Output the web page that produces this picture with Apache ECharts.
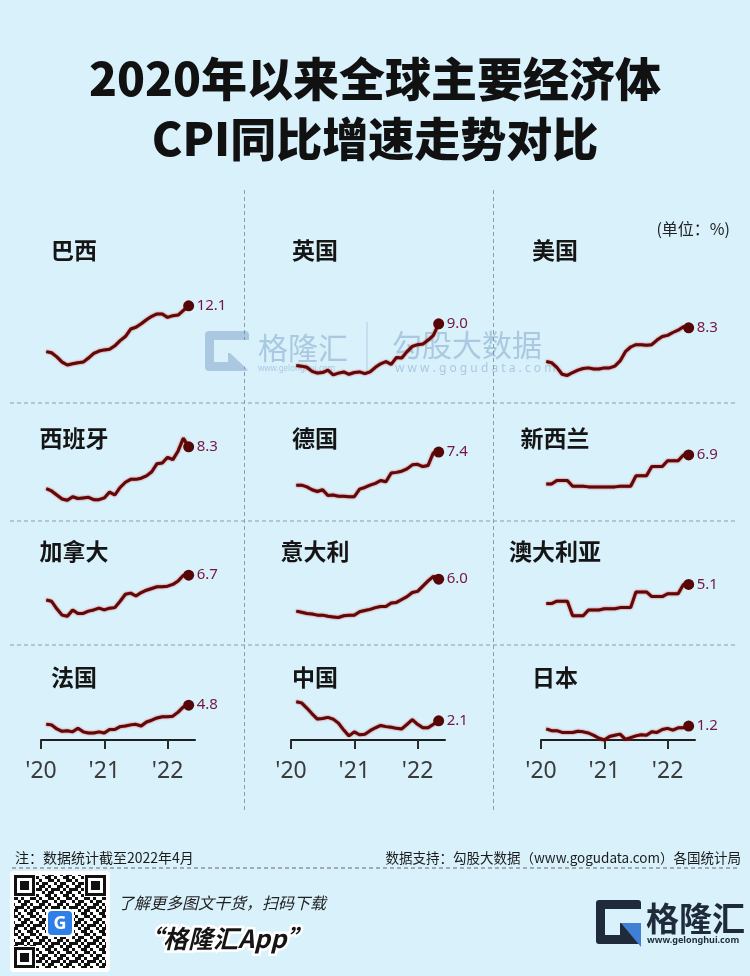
<!DOCTYPE html>
<html><head><meta charset="utf-8">
<script src="https://cdn.jsdelivr.net/npm/echarts@6/dist/echarts.min.js"></script>
<style>html,body{margin:0;padding:0;background:#d8f1fb;}#c{width:750px;height:976px;}</style>
</head><body><div id="c"></div>
<script>
// ---------- data ----------
const months = ['2020-01','2020-02','2020-03','2020-04','2020-05','2020-06','2020-07','2020-08','2020-09','2020-10','2020-11','2020-12',
  '2021-01','2021-02','2021-03','2021-04','2021-05','2021-06','2021-07','2021-08','2021-09','2021-10','2021-11','2021-12',
  '2022-01','2022-02','2022-03','2022-04'];
const countries = ['巴西','英国','美国','西班牙','德国','新西兰','加拿大','意大利','澳大利亚','法国','中国','日本'];
const brazil    = [4.2,4.0,3.3,2.4,1.9,2.1,2.3,2.4,3.1,3.9,4.3,4.5, 4.6,5.2,6.1,6.8,8.1,8.4,9.0,9.7,10.3,10.7,10.7,10.1, 10.4,10.5,11.3,12.1];
const uk        = [1.8,1.7,1.5,0.8,0.5,0.6,1.0,0.2,0.5,0.7,0.3,0.6, 0.7,0.4,0.7,1.5,2.1,2.5,2.0,3.2,3.1,4.2,5.1,5.4, 5.5,6.2,7.0,9.0];
const us        = [2.5,2.3,1.5,0.3,0.1,0.6,1.0,1.3,1.4,1.2,1.2,1.4, 1.4,1.7,2.6,4.2,5.0,5.4,5.4,5.3,5.4,6.2,6.8,7.0, 7.5,7.9,8.5,8.3];
const spain     = [1.1,0.7,0.0,-0.7,-0.9,-0.3,-0.6,-0.5,-0.4,-0.8,-0.8,-0.5, 0.5,0.0,1.3,2.2,2.7,2.7,2.9,3.3,4.0,5.4,5.5,6.5, 6.1,7.6,9.8,8.3];
const germany   = [1.7,1.7,1.4,0.9,0.6,0.9,-0.1,0.0,-0.2,-0.2,-0.3,-0.3, 1.0,1.3,1.7,2.0,2.5,2.3,3.8,3.9,4.1,4.5,5.2,5.3, 4.9,5.1,7.3,7.4];
const newZealand= [1.9,1.9,2.5,2.5,2.5,1.5,1.5,1.5,1.4,1.4,1.4,1.4, 1.4,1.4,1.5,1.5,1.5,3.3,3.3,3.3,4.9,4.9,4.9,5.9, 5.9,5.9,6.9,6.9];
const canada    = [2.4,2.2,0.9,-0.2,-0.4,0.7,0.1,0.1,0.5,0.7,1.0,0.7, 1.0,1.1,2.2,3.4,3.6,3.1,3.7,4.1,4.4,4.7,4.7,4.8, 5.1,5.7,6.7,6.7];
const italy     = [0.5,0.3,0.1,0.0,-0.2,-0.2,-0.4,-0.5,-0.6,-0.3,-0.2,-0.2, 0.4,0.6,0.8,1.1,1.3,1.3,1.9,2.0,2.5,3.0,3.7,3.9, 4.8,5.7,6.5,6.0];
const australia = [1.8,1.8,2.2,2.2,2.2,-0.3,-0.3,-0.3,0.7,0.7,0.7,0.9, 0.9,0.9,1.1,1.1,1.1,3.8,3.8,3.8,3.0,3.0,3.0,3.5, 3.5,3.5,5.1,5.1];
const france    = [1.5,1.4,0.7,0.3,0.4,0.2,0.8,0.2,0.0,0.0,0.2,0.0, 0.6,0.6,1.1,1.2,1.4,1.5,1.2,1.9,2.2,2.6,2.8,2.8, 2.9,3.6,4.5,4.8];
const china     = [5.4,5.2,4.3,3.3,2.4,2.5,2.7,2.4,1.7,0.5,-0.5,0.2, -0.3,-0.2,0.4,0.9,1.3,1.1,1.0,0.8,0.7,1.5,2.3,1.5, 0.9,0.9,1.5,2.1];
const japan     = [0.7,0.4,0.4,0.1,0.1,0.1,0.3,0.2,0.0,-0.4,-0.9,-1.2, -0.6,-0.4,-0.2,-1.1,-0.8,-0.5,-0.3,-0.4,0.2,0.1,0.6,0.8, 0.5,0.9,0.9,1.2];
const tickLabels = ["'20","'21","'22"];
const tickValues = [0,12,24];   // months since 2020-01-01

// ---------- layout ----------
const seriesValues = [brazil,uk,us,spain,germany,newZealand,canada,italy,australia,france,china,japan];
const BG = '#d8f1fb';
const CJK = '"Noto Sans CJK SC","Noto Sans",sans-serif';
const LAT = '"Noto Sans","Noto Sans CJK SC",sans-serif';
const colLeft = [41,291,541];
const zeroY = [376,495,614,733];
const pxPerUnit = 5.8, yMin = -1.2, yMax = 12.5;
const xMax = 29.2, gridW = 154;
const titleX = [74,315,555];
const titleY = [250,438,551,677];

const grids=[], xAxes=[], yAxes=[], series=[];
seriesValues.forEach((vals,i)=>{
  const r = Math.floor(i/3), c = i%3;
  grids.push({left:colLeft[c], top:zeroY[r]-yMax*pxPerUnit, width:gridW, height:(yMax-yMin)*pxPerUnit,
    containLabel:false, outerBoundsMode:'none'});
  xAxes.push({gridIndex:i, type:'value', min:0, max:xMax, show:r===3,
    axisLine:{show:true,onZero:false,lineStyle:{color:'#1f1f1f',width:2}},
    axisTick:{show:true,customValues:tickValues,length:9,lineStyle:{color:'#2a2a2a',width:2}},
    axisLabel:{show:true,customValues:tickValues,
      formatter:v=>{const k=tickValues.indexOf(v);return k>=0?tickLabels[k]:'';},
      fontSize:23,color:'#3b3b3b',margin:20,fontFamily:LAT},
    splitLine:{show:false}});
  yAxes.push({gridIndex:i,type:'value',min:yMin,max:yMax,show:false,splitLine:{show:false}});
  const n = vals.length;
  series.push({type:'line', name:countries[i], xAxisIndex:i, yAxisIndex:i,
    data: vals.map((v,j)=>[j+1, v]),
    showSymbol:true, showAllSymbol:true,
    symbol:(v,p)=> p.dataIndex===n-1 ? 'circle' : 'none',
    symbolSize:11, clip:false, silent:true,
    itemStyle:{color:'#560606'},
    lineStyle:{color:'#5e0808',width:3,shadowColor:'rgba(220,20,20,0.85)',shadowBlur:2},
    endLabel:{show:true,formatter:p=>p.value[1].toFixed(1),color:'#761640',fontSize:15,distance:8,fontFamily:LAT},
    labelLayout:{hideOverlap:false}
  });
});

// ---------- decorations ----------
const g = [];
function txt(x,y,text,opt){ g.push({type:'text',x:x,y:y,silent:true,z:opt.z||10,style:Object.assign({text:text,fontFamily:CJK,verticalAlign:'middle'},opt.style)}); }
function line(x1,y1,x2,y2,color,dash){ g.push({type:'line',silent:true,shape:{x1:x1,y1:y1,x2:x2,y2:y2},style:{stroke:color,lineWidth:1,lineDash:dash}}); }
function rect(x,y,w,h,fill,rr,z){ g.push({type:'rect',silent:true,z:z||5,shape:{x:x,y:y,width:w,height:h,r:rr||0},style:{fill:fill}}); }

// main title
txt(375,79,'2020年以来全球主要经济体',{style:{fontSize:46,fontWeight:900,fill:'#111',align:'center'}});
txt(375,139,'CPI同比增速走势对比',{style:{fontSize:46,fontWeight:900,fill:'#111',align:'center'}});
txt(730,229,'(单位：%)',{style:{fontSize:16,fill:'#222',align:'right'}});

// panel titles
countries.forEach((name,i)=>{
  const r=Math.floor(i/3), c=i%3;
  txt(titleX[c],titleY[r],name,{style:{fontSize:23,fontWeight:'bold',fill:'#151515',align:'center'}});
});

// dashed separators
[403,521,645].forEach(y=>line(10,y,736,y,'#8f9ba5',[4,3]));
[244.5,493.5].forEach(x=>line(x,190,x,813,'#8f9ba5',[4,3]));

// watermark
const WM='rgba(90,130,180,0.36)';
rect(205,331,44,40,WM,4,1);
rect(214,340,35,13,BG,0,2);
rect(214,353,14,9,BG,0,2);
g.push({type:'polygon',silent:true,z:2,shape:{points:[[230,353],[249,353],[249,371]]},style:{fill:BG}});
txt(258,348,'格隆汇',{z:1,style:{fontSize:30,fill:WM}});
txt(258,369,'www.gelonghui.com',{z:1,style:{fontSize:8,fill:WM,fontFamily:LAT}});
line(367,322,367,372,'rgba(90,130,180,0.3)',null);
txt(392,345,'勾股大数据',{z:1,style:{fontSize:30,fill:WM}});
txt(395,369,'w w w . g o g u d a t a . c o m',{z:1,style:{fontSize:12,fill:WM,fontFamily:LAT}});

// footer
txt(15,858,'注：数据统计截至2022年4月',{style:{fontSize:14,fill:'#1a1a1a'}});
txt(741,858,'数据支持：勾股大数据（www.gogudata.com）各国统计局',{style:{fontSize:13.5,fill:'#1a1a1a',align:'right'}});
line(12,868,740,868,'#666',[4,3]);

// QR-like block
rect(10,871,100,101,'#ffffff',4,5);
const cv=document.createElement('canvas'); cv.width=18; cv.height=18;
const cx=cv.getContext('2d'); cx.fillStyle='#fff'; cx.fillRect(0,0,18,18); cx.fillStyle='#111';
const bits=['101100','011010','110101','001011','100110','010011'];
bits.forEach((row,yy)=>row.split('').forEach((b,xx)=>{ if(b==='1') cx.fillRect(xx*3,yy*3,3,3); }));
g.push({type:'rect',silent:true,z:6,shape:{x:14,y:875,width:92,height:93},style:{fill:{image:cv,repeat:'repeat'}}});
[[14,875],[85,875],[14,947]].forEach(p=>{
  rect(p[0]-1,p[1]-1,23,23,'#fff',0,7);
  rect(p[0],p[1],21,21,'#111',0,8);
  rect(p[0]+3,p[1]+3,15,15,'#fff',0,9);
  rect(p[0]+6,p[1]+6,9,9,'#111',0,10);
});
rect(46,909,28,28,'#fff',4,11);
rect(48,911,24,24,'#2f7fe8',4,12);
txt(60,924,'G',{z:13,style:{fontSize:18,fontWeight:'bold',fill:'#fff',align:'center',fontFamily:LAT}});

txt(118,903,'了解更多图文干货，扫码下载',{style:{fontSize:16,fontStyle:'italic',fill:'#222'}});
txt(138,938,'“格隆汇App”',{style:{fontSize:25,fontStyle:'italic',fontWeight:'bold',fill:'#151515',stroke:'#ffffff',lineWidth:5}});

// logo
const NAVY='#1f2b3b';
rect(596,900,45,44,NAVY,3,5);
rect(605,909,36,14,BG,0,6);
rect(605,923,15,12,BG,0,6);
g.push({type:'polygon',silent:true,z:7,shape:{points:[[621,923],[641,923],[641,947]]},style:{fill:'#3f7fd6'}});
txt(646,918,'格隆汇',{style:{fontSize:33,fontWeight:'bold',fill:NAVY}});
txt(647,940,'www.gelonghui.com',{style:{fontSize:9,fontWeight:'bold',fill:NAVY,fontFamily:LAT}});

const chart = echarts.init(document.getElementById('c'),null,{renderer:'canvas'});
chart.setOption({
  backgroundColor:BG, animation:false,
  grid:grids, xAxis:xAxes, yAxis:yAxes, series:series, graphic:g
});
</script></body></html>
